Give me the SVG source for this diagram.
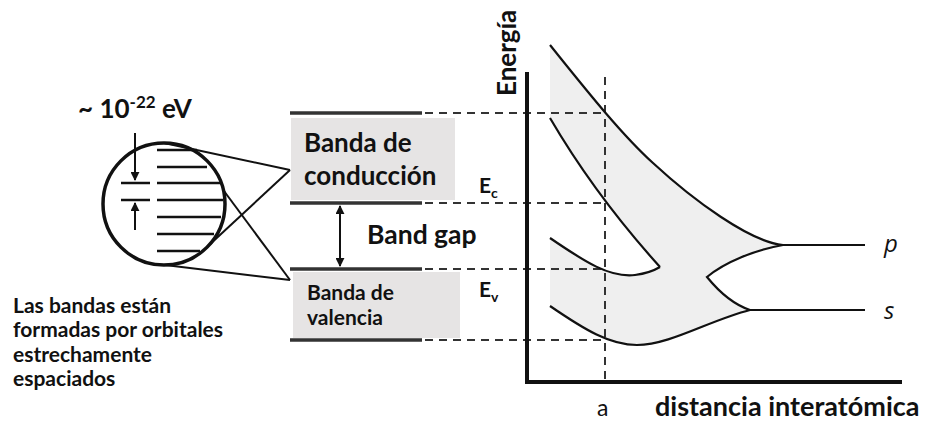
<svg xmlns="http://www.w3.org/2000/svg" width="927" height="425" viewBox="0 0 927 425">
<defs>
<marker id="ah" viewBox="0 0 10 10" refX="9" refY="5" markerWidth="9" markerHeight="9" markerUnits="userSpaceOnUse" orient="auto-start-reverse"><path d="M0,0 L10,5 L0,10 Z" fill="#111"/></marker>
<style>
.t{font-family:Lato,"Liberation Sans",sans-serif;font-weight:bold;fill:#111}
.band{stroke:#333;stroke-width:3.5;fill:none}
.dash{stroke:#333;stroke-width:2;stroke-dasharray:8,6;fill:none}
.crv{stroke:#111;stroke-width:2.2;fill:none}
.lvl{stroke:#111;stroke-width:2.5}
.box{fill:#e6e4e4}
</style>
</defs>
<rect width="927" height="425" fill="#fff"/>

<g id="plot-fill">
<path d="M550,45 C583,86 620,133 653,163 C693,200 750,242 783,245 C755,250 725,262 707,277 C720,293 735,305 750,310 C710,320 670,345 637,345 C610,345 585,330 550,306 L550,238 C585,262 610,278 635,275 Q650,273 660,267 Q595,195 550,118 Z" fill="#efefef"/>
</g>

<g id="connectors">
<line class="dash" x1="425" y1="113" x2="605" y2="113"/>
<line class="dash" x1="425" y1="203" x2="605" y2="203"/>
<line class="dash" x1="425" y1="269" x2="605" y2="269"/>
<line class="dash" x1="425" y1="340" x2="605" y2="340"/>
<line class="dash" x1="605" y1="77" x2="605" y2="382"/>
<line x1="164" y1="143" x2="290" y2="170" stroke="#111" stroke-width="2"/>
<line x1="290" y1="170" x2="207" y2="247" stroke="#111" stroke-width="2"/>
<line x1="224" y1="191" x2="290" y2="280" stroke="#111" stroke-width="2"/>
<line x1="165" y1="265" x2="290" y2="280" stroke="#111" stroke-width="2"/>
<line x1="340" y1="206" x2="340" y2="266" stroke="#111" stroke-width="2" marker-start="url(#ah)" marker-end="url(#ah)"/>
</g>

<g id="zoom-circle">
<line class="lvl" x1="157" y1="150" x2="197" y2="150"/>
<line class="lvl" x1="157" y1="167" x2="207" y2="167"/>
<line class="lvl" x1="157" y1="183" x2="221" y2="183"/>
<line class="lvl" x1="157" y1="200" x2="223" y2="200"/>
<line class="lvl" x1="157" y1="217" x2="221" y2="217"/>
<line class="lvl" x1="157" y1="234" x2="214" y2="234"/>
<line class="lvl" x1="157" y1="251" x2="200" y2="251"/>
<line class="lvl" x1="121" y1="183" x2="150" y2="183"/>
<line class="lvl" x1="121" y1="200" x2="150" y2="200"/>
<circle cx="164" cy="204" r="61" fill="none" stroke="#111" stroke-width="3.5"/>
<line x1="135" y1="133" x2="135" y2="180" stroke="#111" stroke-width="2" marker-end="url(#ah)"/>
<line x1="135" y1="230" x2="135" y2="203" stroke="#111" stroke-width="2" marker-end="url(#ah)"/>
<text class="t" x="78" y="118" font-size="26">~ 10<tspan font-size="17" dy="-10">-22</tspan><tspan dy="10"> eV</tspan></text>
</g>

<g id="conduction-band">
<rect class="box" x="291" y="118" width="164" height="82"/>
<line class="band" x1="290" y1="113" x2="422" y2="113"/>
<line class="band" x1="290" y1="203" x2="422" y2="203"/>
<text class="t" x="304" y="152" font-size="26">Banda de</text>
<text class="t" x="304" y="185" font-size="26">conducción</text>
<text class="t" x="479" y="193" font-size="21">E<tspan font-size="14" dy="5">c</tspan></text>
</g>

<g id="band-gap">
<text class="t" x="367" y="244" font-size="26.5">Band gap</text>
</g>

<g id="valence-band">
<rect class="box" x="293" y="272" width="167" height="66"/>
<line class="band" x1="290" y1="269" x2="422" y2="269"/>
<line class="band" x1="290" y1="340" x2="422" y2="340"/>
<text class="t" x="307" y="300" font-size="21">Banda de</text>
<text class="t" x="307" y="325" font-size="21">valencia</text>
<text class="t" x="479" y="297" font-size="21">E<tspan font-size="14" dy="5">v</tspan></text>
</g>

<g id="caption">
<text class="t" font-size="21"><tspan x="13" y="313">Las bandas están</tspan><tspan x="13" y="337">formadas por orbitales</tspan><tspan x="13" y="362">estrechamente</tspan><tspan x="13" y="386">espaciados</tspan></text>
</g>

<g id="plot">
<path class="crv" d="M550,45 C583,86 620,133 653,163 C693,200 750,242 783,245 L865,245"/>
<path class="crv" d="M550,118 Q595,195 660,267"/>
<path class="crv" d="M550,238 C585,262 610,278 635,275 Q650,273 660,267"/>
<path class="crv" d="M783,245 C755,250 725,262 707,277 C720,293 735,305 750,310 L865,310"/>
<path class="crv" d="M550,306 C585,330 610,345 637,345 C670,345 710,320 750,310"/>
<polyline points="527,72 527,382 902,382" fill="none" stroke="#111" stroke-width="4"/>
<text class="t" font-size="26" transform="translate(516,96) rotate(-90)">Energía</text>
<text x="597" y="416" font-size="23" font-family="Lato,'Liberation Sans',sans-serif" fill="#111">a</text>
<text class="t" x="655" y="416" font-size="27">distancia interatómica</text>
<text x="884" y="252" font-size="24" font-style="italic" font-family="'Open Sans','Liberation Sans',sans-serif" fill="#111">p</text>
<text x="884" y="319" font-size="24" font-style="italic" font-family="'Open Sans','Liberation Sans',sans-serif" fill="#111">s</text>
</g>
</svg>
